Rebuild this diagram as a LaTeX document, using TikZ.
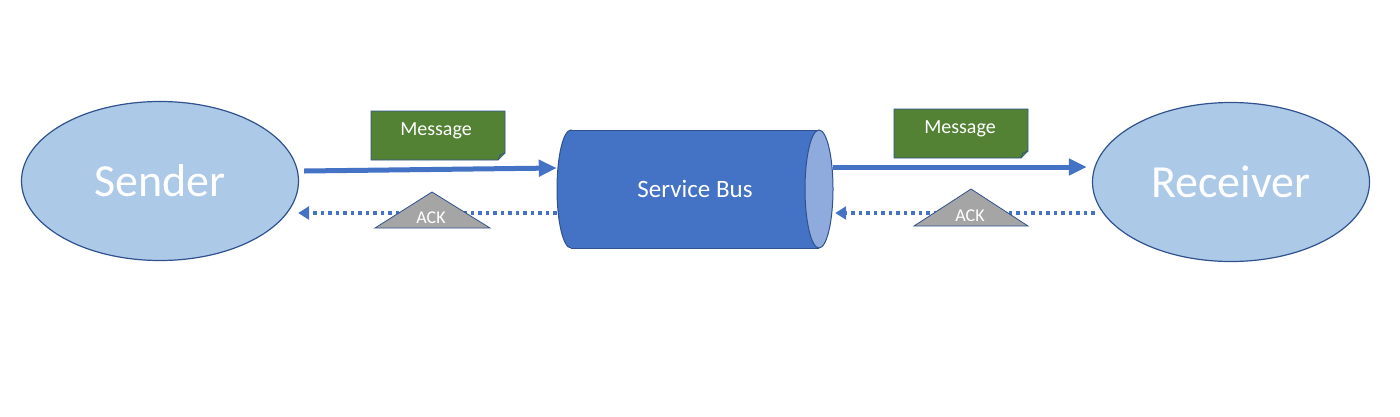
\documentclass[tikz,border=0pt]{standalone}
\usepackage{fontspec}
\setmainfont{Carlito}
\usetikzlibrary{arrows.meta}
\definecolor{olblue}{HTML}{2F528F}
\definecolor{accblue}{HTML}{4472C4}
\definecolor{lightblue}{HTML}{ADC9E8}
\definecolor{endblue}{HTML}{8FAADC}
\definecolor{msggreen}{HTML}{548235}
\definecolor{ackgray}{HTML}{A5A5A5}
\tikzset{
  party/.style={ellipse, draw=olblue, line width=1.2pt, fill=lightblue, inner sep=0pt,
    minimum width=277pt, minimum height=159pt, text=white, font=\fontsize{46}{50}\selectfont},
  sendarrow/.style={draw=accblue, line width=5pt, -{Triangle[length=18pt,width=16pt]}},
  ackarrow/.style={draw=accblue, line width=3.5pt, dash pattern=on 3.5pt off 4pt,
    -{Triangle[length=11pt,width=13pt]}},
  msgbox/.style={fill=msggreen, draw=olblue, line width=0.8pt},
  msgtext/.style={text=white, font=\fontsize{20}{24}\selectfont, inner sep=0pt},
  acktri/.style={fill=ackgray, draw=olblue, line width=0.8pt},
  acktext/.style={text=white, font=\fontsize{18}{21}\selectfont, inner sep=0pt},
}
\usetikzlibrary{shapes.geometric}
\begin{document}
\begin{tikzpicture}[x=1pt,y=-1pt]
\useasboundingbox (0,0) rectangle (1400,416);
% parties
\node[party] (sender) at (160,181) {Sender};
\node[party] (receiver) at (1231,182) {Receiver};
% service bus cylinder
\filldraw[fill=accblue, draw=olblue, line width=1pt] (571,189) ellipse (14 and 59);
\fill[accblue] (571,130) rectangle (819,248);
\draw[olblue, line width=1pt] (571,130) -- (819,130) (571,248) -- (819,248);
\filldraw[fill=endblue, draw=olblue, line width=1pt] (819,189) ellipse (14 and 59);
\node[minimum width=276pt, minimum height=118pt, inner sep=0pt, text=white,
  font=\fontsize{25}{30}\selectfont] (bus) at (695,189) {Service Bus};
% arrows
\draw[sendarrow] ([xshift=5pt,yshift=10pt]sender.east) -- ([yshift=21pt]bus.west);
\draw[sendarrow] ([yshift=22pt]bus.east) -- ([xshift=-5pt,yshift=15pt]receiver.west);
\draw[ackarrow] ([yshift=-24pt]bus.west) -- ([xshift=-1pt,yshift=-32pt]sender.east);
\draw[ackarrow] ([xshift=3pt,yshift=-31pt]receiver.west) -- ([xshift=2pt,yshift=-24pt]bus.east);
% message boxes
\draw[msgbox] (371,111) -- (505,111) -- (505,153) -- (498,160) -- (371,160) -- cycle;
\draw[msgbox] (498,160) -- (500,155) -- (505,153);
\node[msgtext] (msg1) at (436,131) {Message};
\draw[msgbox] (894,109) -- (1028,109) -- (1028,151) -- (1021,158) -- (894,158) -- cycle;
\draw[msgbox] (1021,158) -- (1023,153) -- (1028,151);
\node[msgtext] (msg2) at (960,129) {Message};
% ACK triangles
\draw[acktri] (432,192) -- (490,228) -- (375,228) -- cycle;
\node[acktext] (ack1) at (431,218) {ACK};
\draw[acktri] (971,189) -- (1028,226) -- (914,226) -- cycle;
\node[acktext] (ack2) at (970,216) {ACK};
\end{tikzpicture}
\end{document}
